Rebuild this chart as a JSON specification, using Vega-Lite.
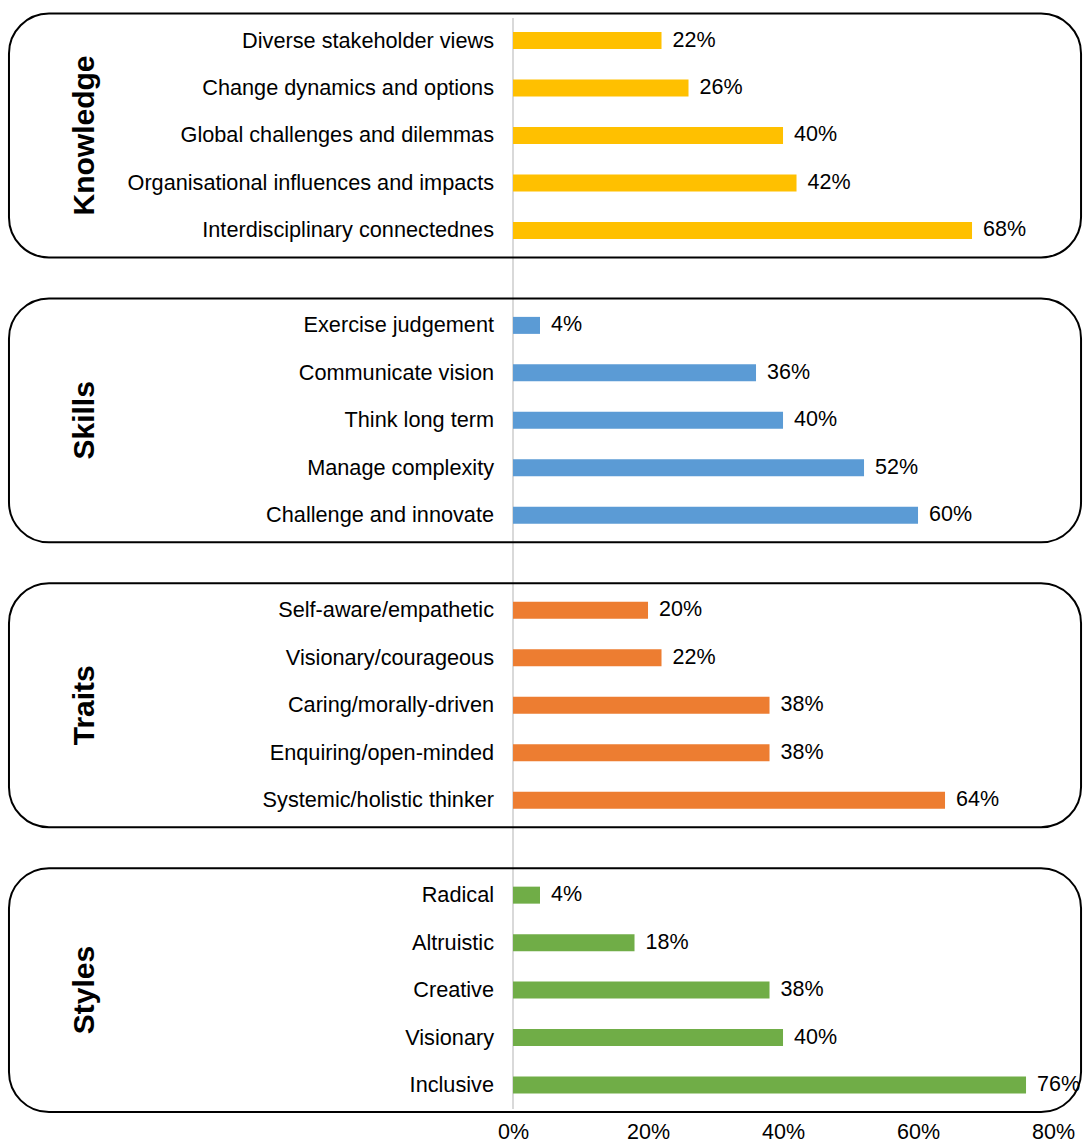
{
  "$schema": "https://vega.github.io/schema/vega-lite/v6.json",
  "width": 1083,
  "height": 1110,
  "autosize": {"type": "none"},
  "padding": {"left": 0, "top": 0, "right": 0, "bottom": 34},
  "background": "white",
  "config": {
    "view": {"stroke": null},
    "font": "Liberation Sans",
    "axis": {"labelFont": "Liberation Sans"},
    "scale": {"continuousPadding": 0}
  },
  "data": {
    "values": [
      {"group": "Knowledge", "label": "Diverse stakeholder views", "value": 0.22, "row": 0},
      {"group": "Knowledge", "label": "Change dynamics and options", "value": 0.26, "row": 1},
      {"group": "Knowledge", "label": "Global challenges and dilemmas", "value": 0.40, "row": 2},
      {"group": "Knowledge", "label": "Organisational influences and impacts", "value": 0.42, "row": 3},
      {"group": "Knowledge", "label": "Interdisciplinary connectednes", "value": 0.68, "row": 4},
      {"group": "Skills", "label": "Exercise judgement", "value": 0.04, "row": 6},
      {"group": "Skills", "label": "Communicate vision", "value": 0.36, "row": 7},
      {"group": "Skills", "label": "Think long term", "value": 0.40, "row": 8},
      {"group": "Skills", "label": "Manage complexity", "value": 0.52, "row": 9},
      {"group": "Skills", "label": "Challenge and innovate", "value": 0.60, "row": 10},
      {"group": "Traits", "label": "Self-aware/empathetic", "value": 0.20, "row": 12},
      {"group": "Traits", "label": "Visionary/courageous", "value": 0.22, "row": 13},
      {"group": "Traits", "label": "Caring/morally-driven", "value": 0.38, "row": 14},
      {"group": "Traits", "label": "Enquiring/open-minded", "value": 0.38, "row": 15},
      {"group": "Traits", "label": "Systemic/holistic thinker", "value": 0.64, "row": 16},
      {"group": "Styles", "label": "Radical", "value": 0.04, "row": 18},
      {"group": "Styles", "label": "Altruistic", "value": 0.18, "row": 19},
      {"group": "Styles", "label": "Creative", "value": 0.38, "row": 20},
      {"group": "Styles", "label": "Visionary", "value": 0.40, "row": 21},
      {"group": "Styles", "label": "Inclusive", "value": 0.76, "row": 22}
    ]
  },
  "layer": [
    {
      "mark": {"type": "rule", "color": "#d9d9d9", "strokeWidth": 2},
      "encoding": {
        "x": {"datum": 0, "type": "quantitative", "scale": {"domain": [-0.76, 0.8444], "nice": false, "zero": false, "padding": 0},
          "axis": {"values": [0, 0.2, 0.4, 0.6, 0.8], "format": ".0%", "title": null, "grid": false, "domain": false, "ticks": false, "tickSize": 0, "labelFontSize": 21.5, "labelColor": "#000000", "labelPadding": 11}},
        "y": {"datum": -0.47, "type": "quantitative", "scale": {"domain": [-0.853, 22.525], "nice": false, "zero": false, "reverse": true, "padding": 0}, "axis": null},
        "y2": {"datum": 22.5}
      }
    },
    {
      "transform": [
        {"aggregate": [{"op": "min", "field": "row", "as": "r0"}, {"op": "max", "field": "row", "as": "r1"}], "groupby": ["group"]}
      ],
      "mark": {"type": "rect", "fill": "white", "fillOpacity": 0, "stroke": "#000000", "strokeWidth": 2, "cornerRadius": 40, "yOffset": -27, "y2Offset": 27},
      "encoding": {
        "x": {"datum": -0.7467, "type": "quantitative", "scale": {"domain": [-0.76, 0.8444], "nice": false, "zero": false, "padding": 0},
          "axis": {"values": [0, 0.2, 0.4, 0.6, 0.8], "format": ".0%", "title": null, "grid": false, "domain": false, "ticks": false, "tickSize": 0, "labelFontSize": 21.5, "labelColor": "#000000", "labelPadding": 11}},
        "x2": {"datum": 0.8415},
        "y": {"field": "r0", "type": "quantitative", "scale": {"domain": [-0.853, 22.525], "nice": false, "zero": false, "reverse": true, "padding": 0}, "axis": null},
        "y2": {"field": "r1"}
      }
    },
    {
      "mark": {"type": "bar", "orient": "horizontal", "size": 17},
      "encoding": {
        "x": {
          "field": "value", "type": "quantitative",
          "scale": {"domain": [-0.76, 0.8444], "nice": false, "zero": false, "padding": 0},
          "axis": {"values": [0, 0.2, 0.4, 0.6, 0.8], "format": ".0%", "title": null, "grid": false, "domain": false, "ticks": false, "tickSize": 0, "labelFontSize": 21.5, "labelColor": "#000000", "labelPadding": 11}
        },
        "x2": {"datum": 0},
        "y": {"field": "row", "type": "quantitative", "scale": {"domain": [-0.853, 22.525], "nice": false, "zero": false, "reverse": true, "padding": 0}, "axis": null},
        "color": {
          "field": "group", "type": "nominal",
          "scale": {"domain": ["Knowledge", "Skills", "Traits", "Styles"], "range": ["#FFC000", "#5B9BD5", "#ED7D31", "#70AD47"]},
          "legend": null
        }
      }
    },
    {
      "mark": {"type": "text", "align": "left", "baseline": "middle", "dx": 11, "fontSize": 21.5, "color": "#000000", "font": "Liberation Sans"},
      "encoding": {
        "x": {"field": "value", "type": "quantitative", "scale": {"domain": [-0.76, 0.8444], "nice": false, "zero": false, "padding": 0},
          "axis": {"values": [0, 0.2, 0.4, 0.6, 0.8], "format": ".0%", "title": null, "grid": false, "domain": false, "ticks": false, "tickSize": 0, "labelFontSize": 21.5, "labelColor": "#000000", "labelPadding": 11}},
        "y": {"field": "row", "type": "quantitative", "scale": {"domain": [-0.853, 22.525], "nice": false, "zero": false, "reverse": true, "padding": 0}, "axis": null},
        "text": {"field": "value", "type": "quantitative", "format": ".0%"}
      }
    },
    {
      "mark": {"type": "text", "align": "right", "baseline": "middle", "dx": -19, "fontSize": 21.7, "color": "#000000", "font": "Liberation Sans"},
      "encoding": {
        "x": {"datum": 0, "type": "quantitative", "scale": {"domain": [-0.76, 0.8444], "nice": false, "zero": false, "padding": 0},
          "axis": {"values": [0, 0.2, 0.4, 0.6, 0.8], "format": ".0%", "title": null, "grid": false, "domain": false, "ticks": false, "tickSize": 0, "labelFontSize": 21.5, "labelColor": "#000000", "labelPadding": 11}},
        "y": {"field": "row", "type": "quantitative", "scale": {"domain": [-0.853, 22.525], "nice": false, "zero": false, "reverse": true, "padding": 0}, "axis": null},
        "text": {"field": "label", "type": "nominal"}
      }
    },
    {
      "transform": [
        {"aggregate": [{"op": "mean", "field": "row", "as": "mrow"}], "groupby": ["group"]}
      ],
      "mark": {"type": "text", "align": "center", "baseline": "middle", "angle": 270, "fontSize": 30, "fontWeight": "bold", "color": "#000000", "font": "Liberation Sans"},
      "encoding": {
        "x": {"datum": -0.634, "type": "quantitative", "scale": {"domain": [-0.76, 0.8444], "nice": false, "zero": false, "padding": 0},
          "axis": {"values": [0, 0.2, 0.4, 0.6, 0.8], "format": ".0%", "title": null, "grid": false, "domain": false, "ticks": false, "tickSize": 0, "labelFontSize": 21.5, "labelColor": "#000000", "labelPadding": 11}},
        "y": {"field": "mrow", "type": "quantitative", "scale": {"domain": [-0.853, 22.525], "nice": false, "zero": false, "reverse": true, "padding": 0}, "axis": null},
        "text": {"field": "group", "type": "nominal"}
      }
    }
  ]
}
